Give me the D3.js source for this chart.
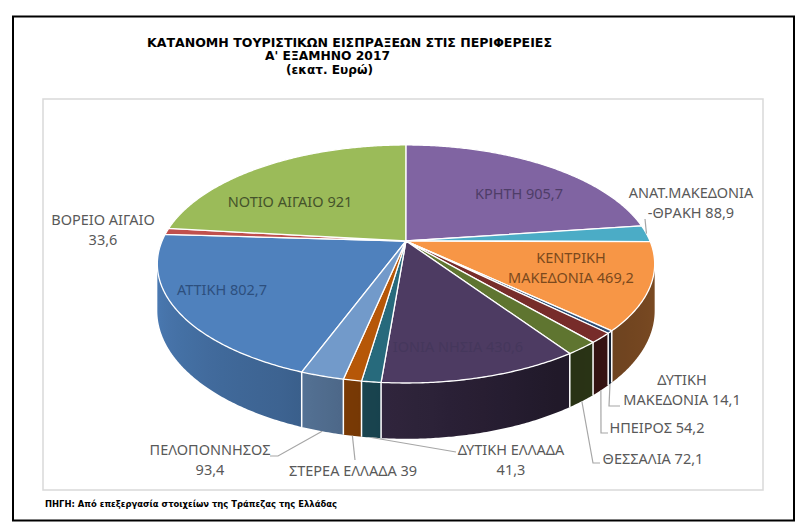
<!DOCTYPE html>
<html>
<head>
<meta charset="utf-8">
<script src="https://cdn.jsdelivr.net/npm/d3@7"></script>
<style>
  body { margin: 0; background: #ffffff; }
  svg { display: block; }
</style>
</head>
<body>
<div id="chart"></div>
<script>
// Regional tourist receipts, first half of 2017 (million euro), in Excel series order
const regions = ["ΑΤΤΙΚΗ", "ΒΟΡΕΙΟ ΑΙΓΑΙΟ", "ΝΟΤΙΟ ΑΙΓΑΙΟ", "ΚΡΗΤΗ", "ΑΝΑΤ.ΜΑΚΕΔΟΝΙΑ-ΘΡΑΚΗ",
  "ΚΕΝΤΡΙΚΗ ΜΑΚΕΔΟΝΙΑ", "ΔΥΤΙΚΗ ΜΑΚΕΔΟΝΙΑ", "ΗΠΕΙΡΟΣ", "ΘΕΣΣΑΛΙΑ", "ΙΟΝΙΑ ΝΗΣΙΑ",
  "ΔΥΤΙΚΗ ΕΛΛΑΔΑ", "ΣΤΕΡΕΑ ΕΛΛΑΔΑ", "ΠΕΛΟΠΟΝΝΗΣΟΣ"];
const receipts = [802.7, 33.6, 921, 905.7, 88.9, 469.2, 14.1, 54.2, 72.1, 430.6, 41.3, 39, 93.4];
const sliceColors = ["#4F81BD", "#C0504D", "#9BBB59", "#8064A2", "#4BACC6", "#F79646",
  "#2C4D75", "#772C2A", "#5F7530", "#4D3B62", "#276A7C", "#B65708", "#729ACA"];
const titleLines = ["ΚΑΤΑΝΟΜΗ ΤΟΥΡΙΣΤΙΚΩΝ ΕΙΣΠΡΑΞΕΩΝ ΣΤΙΣ ΠΕΡΙΦΕΡΕΙΕΣ", "Α' ΕΞΑΜΗΝΟ 2017", "(εκατ. Ευρώ)"];
const sourceNote = "ΠΗΓΗ: Από επεξεργασία στοιχείων της Τράπεζας της Ελλάδας";
const firstSliceAngle = 200.5; // degrees, as set in the original chart

// Label placement (manual, like the moved Excel data labels)
// wrap: 0 one line, 1 break after first word, 2 value on its own line, 3 break before "-"
const labelLayout = [
  { x: 222, y: 295, wrap: 0, inside: "#2d4f7e" },
  { x: 103, y: 225, wrap: 2 },
  { x: 290, y: 207, wrap: 0, inside: "#45532b" },
  { x: 519, y: 199, wrap: 0, inside: "#4e3d68" },
  { x: 691, y: 198, wrap: 3, leader: [[645, 219]], to: "rim" },
  { x: 571, y: 263, wrap: 1, inside: "#7b491d" },
  { x: 682, y: 385, wrap: 1, leader: [[620, 406], [609, 406]], to: "base" },
  { x: 657, y: 433, wrap: 0, leader: [[608, 433], [601, 433]], to: "base" },
  { x: 653, y: 464, wrap: 0, leader: [[600, 463], [593, 463]], to: "base" },
  { x: 458, y: 352, wrap: 0, inside: "#45375c" },
  { x: 511, y: 455, wrap: 2, leader: [[456, 452]], to: "base" },
  { x: 353, y: 476, wrap: 0, leader: [[355, 460]], to: "base" },
  { x: 210, y: 455, wrap: 2, leader: [[270, 456], [278, 456]], to: "base" }
];

const W = 803, H = 531;
const svg = d3.select("#chart").append("svg").attr("width", W).attr("height", H);
const defs = svg.append("defs");

// frames
svg.append("rect").attr("x", 13).attr("y", 16.5).attr("width", 781).attr("height", 504)
  .attr("fill", "none").attr("stroke", "#000").attr("stroke-width", 2);
svg.append("rect").attr("x", 43).attr("y", 99).attr("width", 720).attr("height", 391)
  .attr("fill", "#fff").attr("stroke", "#d9d9d9").attr("stroke-width", 1.5);

// title
const titleLen = [405, 125, 87];
const titleX = [147, 265, 286];
titleLines.forEach((t, i) => {
  svg.append("text").text(t)
    .attr("x", titleX[i]).attr("y", 46.5 + i * 13.5)
    .attr("textLength", titleLen[i]).attr("lengthAdjust", "spacingAndGlyphs")
    .attr("font-family", "DejaVu Sans, Verdana, sans-serif")
    .attr("font-weight", "bold").attr("font-size", "11.5px").attr("fill", "#000");
});

svg.append("text").text(sourceNote)
  .attr("x", 45).attr("y", 507)
  .attr("textLength", 292).attr("lengthAdjust", "spacingAndGlyphs")
  .attr("font-family", "DejaVu Sans, Verdana, sans-serif")
  .attr("font-weight", "bold").attr("font-size", "8.5px").attr("fill", "#000");

// 3D perspective pie geometry
const cx = 406, cy = 241, rx = 244, ry = 114.6, persp = 0.193, depth = 45;
function project(theta) {
  const u = Math.sin(theta), v = -Math.cos(theta), k = 1 / (1 - persp * v);
  return { x: cx + rx * u * k, y: cy + ry * v * k, d: depth * k };
}

const toRad = Math.PI / 180;
const start = firstSliceAngle * toRad;
const pie = d3.pie().sort(null).value(d => d).startAngle(start).endAngle(start + 2 * Math.PI);
const arcs = pie(receipts);

// visible part of the side wall (silhouette where projected x is extreme)
const visFrom = Math.acos(-persp), visTo = 2 * Math.PI - Math.acos(-persp);
// light comes from the left: right side of the wall darkest
const shade = d3.scaleLinear().domain([0, 0.3, 0.55, 0.65, 1]).range([0.5, 0.42, 0.64, 0.76, 0.95]).clamp(true);
const shadeAt = theta => shade((theta - visFrom) / (visTo - visFrom));

function norm(a) { let r = a % (2 * Math.PI); if (r < 0) r += 2 * Math.PI; return r; }

const wallG = svg.append("g");
arcs.forEach((a, i) => {
  const s = norm(a.startAngle), e = s + (a.endAngle - a.startAngle);
  const s0 = Math.max(s, visFrom), s1 = Math.min(e, visTo);
  if (s1 <= s0) return;
  const n = Math.max(2, Math.ceil((s1 - s0) / (0.5 * toRad)));
  const top = [], bot = [];
  for (let j = 0; j <= n; j++) {
    const t = s0 + (s1 - s0) * j / n;
    const p = project(t);
    top.push([p.x, p.y]);
    bot.push([p.x, p.y + p.d]);
  }
  const xs = top.map(p => p[0]);
  const xMin = d3.min(xs), xMax = d3.max(xs);
  const gid = "wall-" + i;
  const grad = defs.append("linearGradient").attr("id", gid)
    .attr("gradientUnits", "userSpaceOnUse")
    .attr("x1", xMin).attr("y1", 0).attr("x2", xMax + 0.01).attr("y2", 0);
  // stops from left (larger theta) to right
  const stops = [];
  for (let j = 0; j <= 12; j++) {
    const t = s1 - (s1 - s0) * j / 12;
    const px = project(t).x;
    stops.push({ off: (px - xMin) / (xMax + 0.01 - xMin), col: d3.interpolateRgb("#000000", sliceColors[i])(shadeAt(t)) });
  }
  stops.sort((p, q) => p.off - q.off).forEach(st => {
    grad.append("stop").attr("offset", Math.max(0, Math.min(1, st.off))).attr("stop-color", st.col);
  });
  wallG.append("path").attr("d", d3.line()(top.concat(bot.reverse())) + "Z")
    .attr("fill", `url(#${gid})`);
});

// white separators on the wall
arcs.forEach(a => {
  const s = norm(a.startAngle);
  if (s > visFrom && s < visTo) {
    const p = project(s);
    wallG.append("line").attr("x1", p.x).attr("y1", p.y).attr("x2", p.x).attr("y2", p.y + p.d)
      .attr("stroke", "#fff").attr("stroke-width", 1.5);
  }
});

// top faces
const line = d3.line().x(d => d.x).y(d => d.y);
const topG = svg.append("g");
arcs.forEach((a, i) => {
  const pts = [{ x: cx, y: cy }];
  const n = Math.max(2, Math.ceil((a.endAngle - a.startAngle) / (0.5 * toRad)));
  for (let j = 0; j <= n; j++) pts.push(project(a.startAngle + (a.endAngle - a.startAngle) * j / n));
  topG.append("path").attr("d", line(pts) + "Z")
    .attr("fill", sliceColors[i]).attr("stroke", "#fff").attr("stroke-width", 1.3)
    .attr("stroke-linejoin", "round");
});

// labels
const fmt = d3.formatLocale({ decimal: ",", thousands: ".", grouping: [3], currency: ["", "€"] }).format(".1~f");
function labelLines(name, val, wrap) {
  const v = fmt(val);
  if (wrap === 1) { const k = name.indexOf(" "); return [name.slice(0, k), name.slice(k + 1) + " " + v]; }
  if (wrap === 2) return [name, v];
  if (wrap === 3) { const k = name.indexOf("-"); return [name.slice(0, k), name.slice(k) + " " + v]; }
  return [name + " " + v];
}

const labelG = svg.append("g");
arcs.forEach((a, i) => {
  const L = labelLayout[i];
  const mid = (a.startAngle + a.endAngle) / 2;
  if (L.leader) {
    const p = project(mid);
    const end = L.to === "rim" ? [p.x, p.y] : [p.x, p.y + p.d];
    labelG.append("path").attr("d", d3.line()(L.leader.concat([end])))
      .attr("fill", "none").attr("stroke", "#a6a6a6").attr("stroke-width", 1.2);
  }
  const lines = labelLines(regions[i], receipts[i], L.wrap);
  const txt = labelG.append("text")
    .attr("text-anchor", "middle")
    .attr("font-family", "Noto Sans, Lato, sans-serif")
    .attr("font-size", "14.5px")
    .attr("fill", L.inside || "#595959");
  lines.forEach((ln, j) => {
    txt.append("tspan").attr("x", L.x).attr("y", L.y + j * 20).text(ln);
  });
});
</script>
</body>
</html>
